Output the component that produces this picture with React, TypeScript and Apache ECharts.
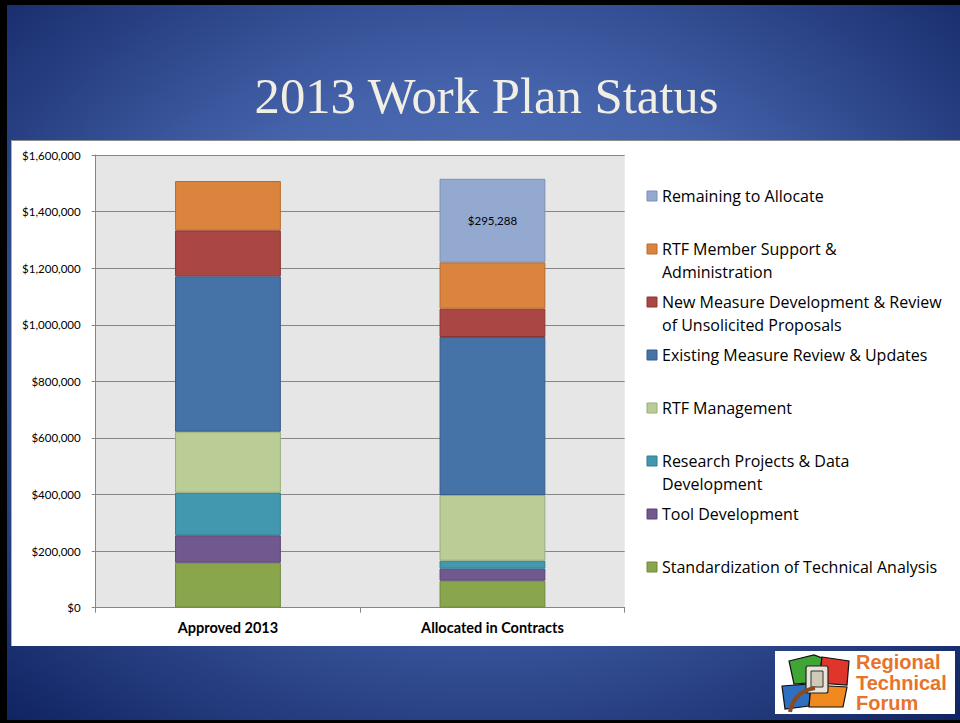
import React, { useEffect, useRef } from "react";
import * as echarts from "echarts";

// ---------- data ----------
const categories = ["Approved 2013", "Allocated in Contracts"];

const seriesNames = [
  "Standardization of Technical Analysis",
  "Tool Development",
  "Research Projects & Data Development",
  "RTF Management",
  "Existing Measure Review & Updates",
  "New Measure Development & Review of Unsolicited Proposals",
  "RTF Member Support & Administration",
  "Remaining to Allocate",
];

const legendText = [
  "Standardization of Technical Analysis",
  "Tool Development",
  "Research Projects & Data\nDevelopment",
  "RTF Management",
  "Existing Measure Review & Updates",
  "New Measure Development & Review\nof Unsolicited Proposals",
  "RTF Member Support &\nAdministration",
  "Remaining to Allocate",
];

const standardization = [159000, 95400];
const toolDevelopment = [96900, 42400];
const researchProjects = [150500, 28300];
const rtfManagement = [215600, 232200];
const existingMeasure = [549200, 558400];
const newMeasure = [162500, 100000];
const memberSupport = [174300, 163900];
const remainingToAllocate = [null, 295288];

const yMin = 0;
const yMax = 1600000;
const yInterval = 200000;

const titleText = "2013 Work Plan Status";
const logoLines = ["Regional", "Technical", "Forum"];

// ---------- styles ----------
const fills = ["#8aa64c", "#71588f", "#4198af", "#bacd96", "#4572a7", "#aa4643", "#db843d", "#93a9cf"];
const borders = ["#6f883a", "#584473", "#327d91", "#9aad78", "#365d8b", "#8a3633", "#b96a2e", "#7a90b8"];

const seriesData = [
  standardization,
  toolDevelopment,
  researchProjects,
  rtfManagement,
  existingMeasure,
  newMeasure,
  memberSupport,
  remainingToAllocate,
];

const fmtMoney = (v: number) => "$" + Number(v).toLocaleString("en-US");

export default function App() {
  const ref = useRef<HTMLDivElement>(null);

  useEffect(() => {
    document.body.style.margin = "0";
    if (!ref.current) return;
    const chart = echarts.init(ref.current, undefined, { renderer: "svg" });

    const graphics: any[] = [];
    // title
    graphics.push({
      type: "text",
      x: 486.5,
      y: 96,
      style: {
        text: titleText,
        font: 'normal 50.7px "Liberation Serif"',
        fill: "#f1eee3",
        align: "center",
        verticalAlign: "middle",
      },
    });

    // legend (top to bottom = reverse series order)
    const order = seriesNames.map((_, i) => i).reverse();
    order.forEach((si, k) => {
      const cy = 196 + k * 53;
      graphics.push({
        type: "rect",
        shape: { x: 647, y: cy - 5, width: 10, height: 10 },
        style: { fill: fills[si], stroke: borders[si], lineWidth: 1 },
      });
      graphics.push({
        type: "text",
        x: 662,
        y: cy - 11.5,
        style: {
          text: legendText[si],
          font: '16px "Open Sans"',
          fill: "#000",
          lineHeight: 23,
          align: "left",
          verticalAlign: "top",
        },
      });
    });

    // logo
    graphics.push({
      type: "rect",
      shape: { x: 775, y: 651, width: 180, height: 63 },
      style: { fill: "#ffffff" },
    });
    graphics.push({
      type: "polygon",
      shape: { points: [[789, 661], [814, 655], [822, 658], [819, 682], [794, 684]] },
      style: { fill: "#3fa535", stroke: "#111", lineWidth: 1.2 },
    });
    graphics.push({
      type: "polygon",
      shape: { points: [[822, 657], [849, 661], [847, 685], [819, 683]] },
      style: { fill: "#e0352b", stroke: "#111", lineWidth: 1.2 },
    });
    graphics.push({
      type: "polygon",
      shape: { points: [[782, 686], [811, 684], [809, 706], [785, 709]] },
      style: { fill: "#2f6fc0", stroke: "#111", lineWidth: 1.2 },
    });
    graphics.push({
      type: "polygon",
      shape: { points: [[811, 685], [847, 687], [843, 707], [809, 707]] },
      style: { fill: "#f08a1e", stroke: "#111", lineWidth: 1.2 },
    });
    graphics.push({
      type: "rect",
      shape: { x: 806, y: 666, width: 22, height: 27, r: 2 },
      style: { fill: "#e8e4d8", stroke: "#222", lineWidth: 1.2 },
    });
    graphics.push({
      type: "rect",
      shape: { x: 811, y: 671, width: 12, height: 16 },
      style: { fill: "#cfc9b8", stroke: "#333", lineWidth: 1 },
    });
    graphics.push({
      type: "bezierCurve",
      shape: { x1: 815, y1: 688, x2: 790, y2: 712, cpx1: 800, cpy1: 690, cpx2: 792, cpy2: 700 },
      style: { stroke: "#8a4a20", lineWidth: 4, fill: "none" },
    });
    logoLines.forEach((t, i) => {
      graphics.push({
        type: "text",
        x: 856,
        y: 662 + i * 20.5,
        style: {
          text: t,
          font: 'bold 20px "Liberation Sans"',
          fill: "#e8732a",
          align: "left",
          verticalAlign: "middle",
        },
      });
    });

    const series = seriesNames.map((name, i) => ({
      name,
      type: "bar",
      stack: "total",
      barWidth: "40%",
      data: seriesData[i],
      itemStyle: { color: fills[i], borderColor: borders[i], borderWidth: 1 },
      label:
        i === seriesNames.length - 1
          ? {
              show: true,
              position: "inside",
              color: "#000",
              fontSize: 11.5,
              fontFamily: "Lato",
              formatter: (p: any) => (p.value == null ? "" : fmtMoney(p.value)),
            }
          : { show: false },
      emphasis: { disabled: true },
    }));

    chart.setOption({
      animation: false,
      backgroundColor: "transparent",
      textStyle: { fontFamily: "Lato" },
      grid: {
        left: 95.7,
        right: 335.3,
        top: 155,
        bottom: 115.3,
        show: true,
        backgroundColor: "#e6e6e6",
        borderWidth: 0,
      },
      xAxis: {
        type: "category",
        data: categories,
        axisLine: { lineStyle: { color: "#868686" } },
        axisTick: { show: true, length: 5, lineStyle: { color: "#868686" } },
        axisLabel: {
          color: "#000",
          fontWeight: "bold",
          fontSize: 14.5,
          fontFamily: "Lato",
          margin: 12,
        },
      },
      yAxis: {
        type: "value",
        min: yMin,
        max: yMax,
        interval: yInterval,
        axisLine: { show: true, lineStyle: { color: "#868686" } },
        axisTick: { show: true, length: 4, lineStyle: { color: "#868686" } },
        splitLine: { lineStyle: { color: "#868686" } },
        axisLabel: {
          color: "#000",
          fontSize: 11.5,
          fontFamily: "Lato",
          margin: 15,
          formatter: (v: number) => fmtMoney(v),
        },
      },
      graphic: graphics,
      series,
    });

    return () => chart.dispose();
  }, []);

  return (
    <div style={{ position: "relative", width: 960, height: 723, background: "#000", overflow: "hidden" }}>
      <div
        style={{
          position: "absolute",
          left: 7,
          top: 5,
          width: 953,
          height: 715,
          background:
            "radial-gradient(ellipse 75% 75% at 50% 45%, #5a7bc4 0%, #4563ab 45%, #0f2260 100%)",
        }}
      />
      <div
        style={{
          position: "absolute",
          left: 11,
          top: 140,
          width: 949,
          height: 506,
          background: "#fff",
          borderTop: "1px solid #8c8c8c",
          borderLeft: "1px solid #b0b0b0",
          boxSizing: "border-box",
        }}
      />
      <div ref={ref} style={{ position: "absolute", left: 0, top: 0, width: 960, height: 723 }} />
    </div>
  );
}
